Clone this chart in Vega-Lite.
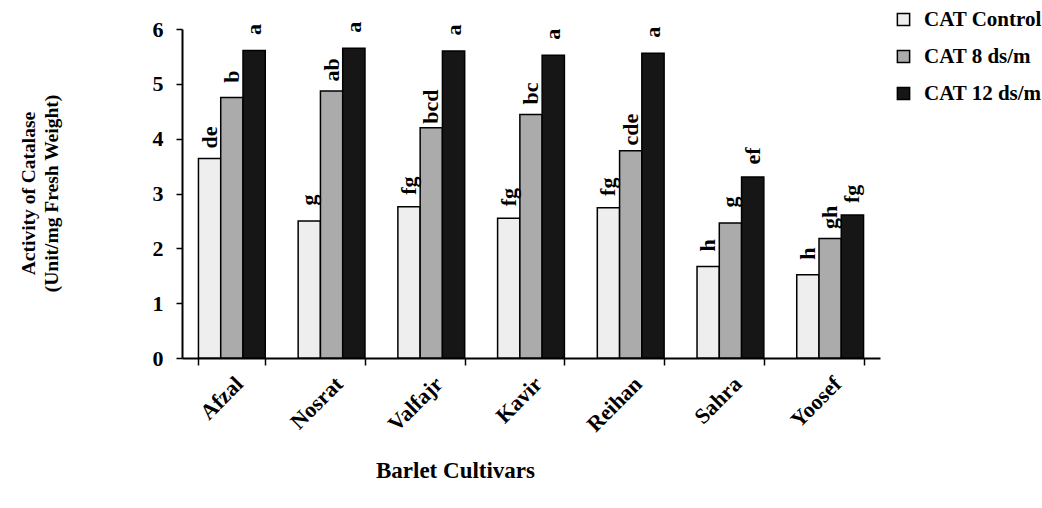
{
  "$schema": "https://vega.github.io/schema/vega-lite/v6.json",
  "width": 698,
  "height": 329,
  "autosize": {"type": "none"},
  "padding": {"left": 182, "top": 29, "right": 162, "bottom": 150},
  "background": "white",
  "config": {
    "font": "Liberation Serif, Times New Roman, serif",
    "view": {"stroke": null},
    "axis": {"labelFont": "Liberation Serif, Times New Roman, serif", "titleFont": "Liberation Serif, Times New Roman, serif", "labelFontWeight": "bold", "titleFontWeight": "bold", "labelColor": "black", "titleColor": "black", "domainColor": "black", "tickColor": "black", "domainWidth": 2, "tickWidth": 1.5, "grid": false}
  },
  "data": {
    "values": [
      {"cultivar": "Afzal", "treatment": "CAT Control", "value": 3.64, "letter": "de"},
      {"cultivar": "Afzal", "treatment": "CAT 8 ds/m", "value": 4.75, "letter": "b"},
      {"cultivar": "Afzal", "treatment": "CAT 12 ds/m", "value": 5.61, "letter": "a"},
      {"cultivar": "Nosrat", "treatment": "CAT Control", "value": 2.5, "letter": "g"},
      {"cultivar": "Nosrat", "treatment": "CAT 8 ds/m", "value": 4.87, "letter": "ab"},
      {"cultivar": "Nosrat", "treatment": "CAT 12 ds/m", "value": 5.65, "letter": "a"},
      {"cultivar": "Valfajr", "treatment": "CAT Control", "value": 2.76, "letter": "fg"},
      {"cultivar": "Valfajr", "treatment": "CAT 8 ds/m", "value": 4.2, "letter": "bcd"},
      {"cultivar": "Valfajr", "treatment": "CAT 12 ds/m", "value": 5.6, "letter": "a"},
      {"cultivar": "Kavir", "treatment": "CAT Control", "value": 2.55, "letter": "fg"},
      {"cultivar": "Kavir", "treatment": "CAT 8 ds/m", "value": 4.44, "letter": "bc"},
      {"cultivar": "Kavir", "treatment": "CAT 12 ds/m", "value": 5.52, "letter": "a"},
      {"cultivar": "Reihan", "treatment": "CAT Control", "value": 2.74, "letter": "fg"},
      {"cultivar": "Reihan", "treatment": "CAT 8 ds/m", "value": 3.78, "letter": "cde"},
      {"cultivar": "Reihan", "treatment": "CAT 12 ds/m", "value": 5.56, "letter": "a"},
      {"cultivar": "Sahra", "treatment": "CAT Control", "value": 1.67, "letter": "h"},
      {"cultivar": "Sahra", "treatment": "CAT 8 ds/m", "value": 2.46, "letter": "g"},
      {"cultivar": "Sahra", "treatment": "CAT 12 ds/m", "value": 3.3, "letter": "ef"},
      {"cultivar": "Yoosef", "treatment": "CAT Control", "value": 1.52, "letter": "h"},
      {"cultivar": "Yoosef", "treatment": "CAT 8 ds/m", "value": 2.18, "letter": "gh"},
      {"cultivar": "Yoosef", "treatment": "CAT 12 ds/m", "value": 2.61, "letter": "fg"}
    ]
  },
  "encoding": {
    "x": {
      "field": "cultivar", "type": "nominal",
      "sort": ["Afzal", "Nosrat", "Valfajr", "Kavir", "Reihan", "Sahra", "Yoosef"],
      "scale": {"paddingInner": 0.33, "paddingOuter": 0.165},
      "axis": {
        "title": "Barlet Cultivars", "titleFontSize": 23, "titleX": 273, "titleY": 112, "titleBaseline": "middle", "titleAlign": "center",
        "labelAngle": -45, "labelFontSize": 22, "labelPadding": 8, "tickBand": "extent", "tickSize": 7
      }
    },
    "xOffset": {
      "field": "treatment", "type": "nominal",
      "sort": ["CAT Control", "CAT 8 ds/m", "CAT 12 ds/m"],
      "scale": {"paddingInner": 0, "paddingOuter": 0}
    },
    "y": {
      "field": "value", "type": "quantitative",
      "scale": {"domain": [0, 6], "nice": false},
      "axis": {
        "title": ["Activity of Catalase", "(Unit/mg Fresh Weight)"], "titleFontSize": 19.5, "titleLineHeight": 23,
        "titleX": -163, "titleY": 164, "titleBaseline": "top", "titleAlign": "center", "titleAngle": 270,
        "values": [0, 1, 2, 3, 4, 5, 6], "labelFontSize": 22, "labelPadding": 13, "tickSize": 6
      }
    }
  },
  "layer": [
    {
      "mark": {"type": "bar", "stroke": "black", "strokeWidth": 1.5},
      "encoding": {
        "fill": {
          "field": "treatment", "type": "nominal",
          "sort": ["CAT Control", "CAT 8 ds/m", "CAT 12 ds/m"],
          "scale": {"domain": ["CAT Control", "CAT 8 ds/m", "CAT 12 ds/m"], "range": ["#eeeeee", "#ababab", "#161616"]},
          "legend": {
            "title": null, "orient": "none", "legendX": 711, "legendY": -20,
            "symbolType": "square", "symbolSize": 150, "symbolStrokeColor": "black", "symbolStrokeWidth": 1.5,
            "labelFont": "Liberation Serif, Times New Roman, serif", "labelFontWeight": "bold", "labelFontSize": 21, "labelColor": "black",
            "labelOffset": 10, "rowPadding": 15
          }
        }
      }
    },
    {
      "mark": {"type": "text", "align": "center", "baseline": "middle", "dx": 21, "font": "Liberation Serif, Times New Roman, serif", "fontWeight": "bold", "fontSize": 22, "color": "black"},
      "encoding": {
        "text": {"field": "letter", "type": "nominal"},
        "angle": {"value": 270}
      }
    }
  ]
}
